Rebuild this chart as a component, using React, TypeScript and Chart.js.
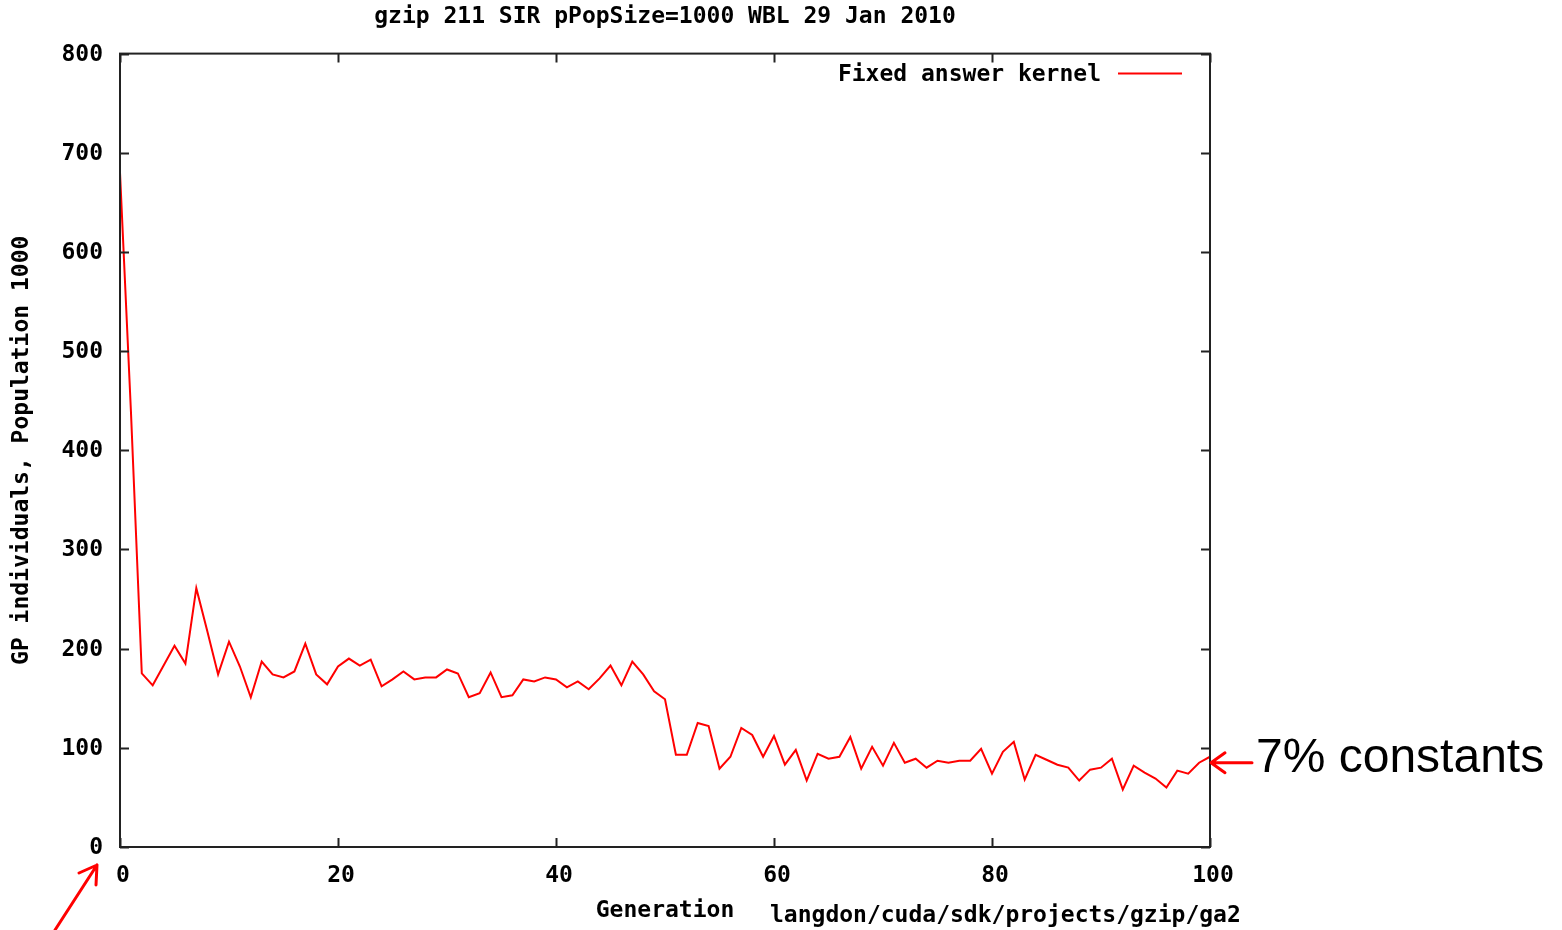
import React, { useEffect, useRef } from "react";
import { Chart, registerables } from "chart.js";

Chart.register(...registerables);

const chartTitle = "gzip 211 SIR pPopSize=1000 WBL 29 Jan 2010";
const seriesLabel = "Fixed answer kernel";
const xAxisTitle = "Generation";
const yAxisTitle = "GP individuals, Population 1000";
const pathNote = "langdon/cuda/sdk/projects/gzip/ga2";
const sideNote = "7% constants";

const generations = [
  0, 1, 2, 3, 4, 5, 6, 7, 8, 9,
  10, 11, 12, 13, 14, 15, 16, 17, 18, 19,
  20, 21, 22, 23, 24, 25, 26, 27, 28, 29,
  30, 31, 32, 33, 34, 35, 36, 37, 38, 39,
  40, 41, 42, 43, 44, 45, 46, 47, 48, 49,
  50, 51, 52, 53, 54, 55, 56, 57, 58, 59,
  60, 61, 62, 63, 64, 65, 66, 67, 68, 69,
  70, 71, 72, 73, 74, 75, 76, 77, 78, 79,
  80, 81, 82, 83, 84, 85, 86, 87, 88, 89,
  90, 91, 92, 93, 94, 95, 96, 97, 98, 99,
  100,
];

const fixedAnswerKernel = [
  680, 440, 175, 163, 183, 203, 185, 261, 218, 174,
  207, 182, 151, 187, 174, 171, 177, 205, 174, 164,
  182, 190, 183, 189, 162, 169, 177, 169, 171, 171,
  179, 175, 151, 155, 176, 151, 153, 169, 167, 171,
  169, 161, 167, 159, 170, 183, 163, 187, 174, 157,
  149, 93, 93, 125, 122, 79, 91, 120, 113, 91,
  112, 83, 98, 67, 94, 89, 91, 111, 79, 101,
  82, 105, 85, 89, 80, 87, 85, 87, 87, 99,
  74, 96, 106, 68, 93, 88, 83, 80, 67, 78,
  80, 89, 58, 82, 75, 69, 60, 77, 74, 85,
  91,
];

const MONO = "'DejaVu Sans Mono', monospace";

const decorPlugin = {
  id: "decor",
  afterDatasetsDraw(chart: any) {
    const ctx = chart.ctx as CanvasRenderingContext2D;
    const { left, right, top, bottom } = chart.chartArea;
    const xs = chart.scales.x;
    const ys = chart.scales.y;
    ctx.save();
    // frame
    ctx.strokeStyle = "#222";
    ctx.lineWidth = 2;
    ctx.strokeRect(left, top, right - left, bottom - top);
    // inward ticks
    const tl = 9;
    ctx.beginPath();
    ys.ticks.forEach((t: any) => {
      const py = Math.round(ys.getPixelForValue(t.value)) + 0.5;
      ctx.moveTo(left, py);
      ctx.lineTo(left + tl, py);
      ctx.moveTo(right, py);
      ctx.lineTo(right - tl, py);
    });
    xs.ticks.forEach((t: any) => {
      const px = Math.round(xs.getPixelForValue(t.value)) + 0.5;
      ctx.moveTo(px, bottom);
      ctx.lineTo(px, bottom - tl);
      ctx.moveTo(px, top);
      ctx.lineTo(px, top + tl);
    });
    ctx.stroke();

    // legend (inside, top right)
    const ds = chart.data.datasets[0];
    ctx.font = `bold 23px ${MONO}`;
    ctx.fillStyle = "#000";
    ctx.textAlign = "right";
    ctx.textBaseline = "middle";
    ctx.fillText(ds.label, right - 109, top + 21);
    ctx.strokeStyle = ds.borderColor;
    ctx.lineWidth = 2;
    ctx.beginPath();
    ctx.moveTo(right - 92, top + 20);
    ctx.lineTo(right - 28, top + 20);
    ctx.stroke();

    // path note next to x title
    ctx.fillStyle = "#000";
    ctx.textAlign = "left";
    ctx.fillText(pathNote, left + 650, bottom + 69);

    // side note with arrow
    ctx.strokeStyle = "#ff0000";
    ctx.lineWidth = 3;
    ctx.lineCap = "round";
    const ay = ys.getPixelForValue(fixedAnswerKernel[fixedAnswerKernel.length - 1]) + 6;
    ctx.beginPath();
    ctx.moveTo(right + 42, ay);
    ctx.lineTo(right + 1, ay);
    ctx.moveTo(right + 1, ay);
    ctx.lineTo(right + 15, ay - 10);
    ctx.moveTo(right + 1, ay);
    ctx.lineTo(right + 15, ay + 10);
    ctx.stroke();
    ctx.font = "48px 'Liberation Sans', Arial, sans-serif";
    ctx.fillStyle = "#000";
    ctx.textBaseline = "alphabetic";
    ctx.fillText(sideNote, right + 46, ay + 9);

    // bottom-left arrow pointing at origin
    const tipX = left - 23;
    const tipY = bottom + 18;
    ctx.beginPath();
    ctx.moveTo(55, 930);
    ctx.lineTo(tipX, tipY);
    ctx.moveTo(tipX, tipY);
    ctx.lineTo(tipX - 18, tipY + 8);
    ctx.moveTo(tipX, tipY);
    ctx.lineTo(tipX - 1, tipY + 20);
    ctx.stroke();
    ctx.restore();
  },
};

export default function App() {
  const canvasRef = useRef<HTMLCanvasElement | null>(null);

  useEffect(() => {
    if (!canvasRef.current) return;
    const points = generations.map((g, i) => ({ x: g, y: fixedAnswerKernel[i] }));
    const chart = new Chart(canvasRef.current, {
      type: "line",
      data: {
        datasets: [
          {
            label: seriesLabel,
            data: points,
            borderColor: "#ff0000",
            borderWidth: 2,
            pointRadius: 0,
            tension: 0,
            fill: false,
          },
        ],
      },
      options: {
        animation: false,
        responsive: false,
        devicePixelRatio: 1,
        layout: { padding: { left: 0, right: 352, top: 0, bottom: 0 } },
        plugins: {
          legend: { display: false },
          tooltip: { enabled: false },
          title: {
            display: true,
            text: chartTitle,
            fullSize: false,
            color: "#000",
            font: { family: MONO, size: 23, weight: "bold" },
            padding: { top: 3, bottom: 23 },
          },
        },
        scales: {
          x: {
            type: "linear",
            min: 0,
            max: 100,
            afterFit: (s: any) => {
              s.height = 83;
            },
            grid: { display: false, drawTicks: false },
            border: { display: false },
            ticks: {
              stepSize: 20,
              color: "#000",
              padding: 15,
              labelOffset: 3,
              maxRotation: 0,
              font: { family: MONO, size: 23, weight: "bold" },
            },
            title: {
              display: true,
              text: xAxisTitle,
              color: "#000",
              font: { family: MONO, size: 23, weight: "bold" },
              padding: { top: 0, bottom: 5 },
            },
          },
          y: {
            type: "linear",
            min: 0,
            max: 800,
            afterFit: (s: any) => {
              s.width = 120;
            },
            grid: { display: false, drawTicks: false },
            border: { display: false },
            ticks: {
              stepSize: 100,
              color: "#000",
              padding: 17,
              labelOffset: 1,
              font: { family: MONO, size: 23, weight: "bold" },
            },
            title: {
              display: true,
              text: yAxisTitle,
              color: "#000",
              font: { family: MONO, size: 23, weight: "bold" },
              padding: { top: 8, bottom: 0 },
            },
          },
        },
      },
      plugins: [decorPlugin],
    });
    return () => chart.destroy();
  }, []);

  return (
    <div
      style={{
        position: "fixed",
        left: 0,
        top: 0,
        width: 1562,
        height: 930,
        background: "#fff",
      }}
    >
      <canvas ref={canvasRef} width={1562} height={930} style={{ display: "block" }} />
    </div>
  );
}
